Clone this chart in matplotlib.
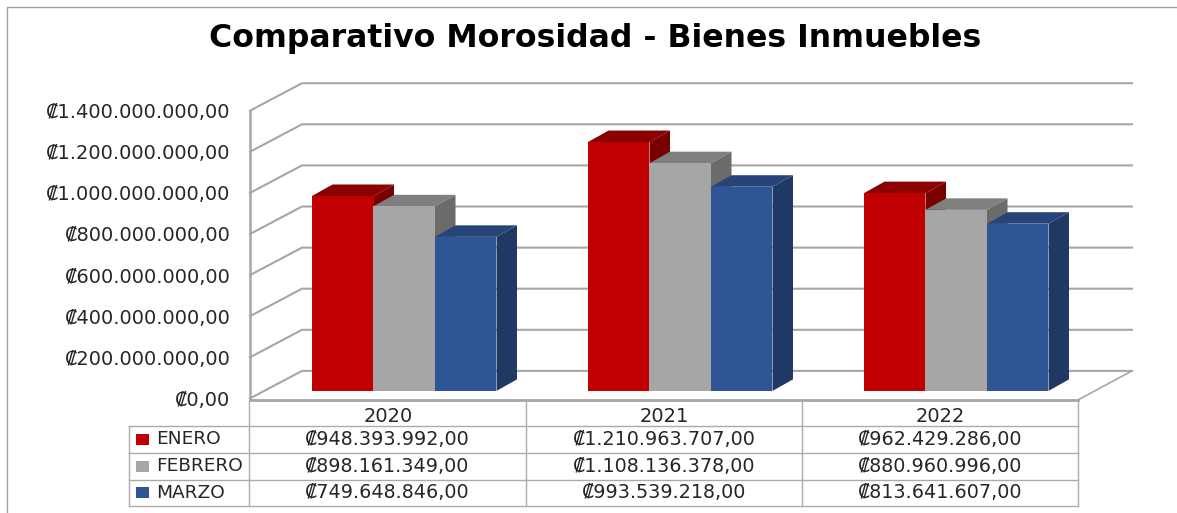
import matplotlib
matplotlib.use('Agg')
import matplotlib.pyplot as plt
from matplotlib.patches import Polygon, Rectangle

title = 'Comparativo Morosidad - Bienes Inmuebles'
years = ['2020', '2021', '2022']
seriesNames = ['ENERO', 'FEBRERO', 'MARZO']
enero = [948393992, 1210963707, 962429286]
febrero = [898161349, 1108136378, 880960996]
marzo = [749648846, 993539218, 813641607]
yTicks = [0, 200000000, 400000000, 600000000, 800000000, 1000000000, 1200000000, 1400000000]

values = [enero, febrero, marzo]
faceColors = ['#C00000', '#A6A6A6', '#2F5597']
topColors = ['#8B0000', '#7F7F7F', '#264478']
sideColors = ['#7A0000', '#6B6B6B', '#1F3864']
gridColor = '#A6A6A6'
W, H = 1177, 513


def money(v):
  # spanish style number, dots for thousands
  return '\u20a1' + '{:,.2f}'.format(v).replace(',', 'X').replace('.', ',').replace('X', '.')


fig = plt.figure(figsize=(W / 100, H / 100), dpi=100)
fig.patch.set_facecolor('white')

# front plane of the fake 3d box: x 250-1078, y 110.7-398.4 in pixels
left, right, top, bottom = 250, 1078, 110.7, 398.4
ax = fig.add_axes([left / W, 1 - bottom / H, (right - left) / W, (bottom - top) / H])
ax.set_xlim(0, 3)
ax.set_ylim(0, 1400000000)
ax.patch.set_visible(False)
for s in ax.spines.values():
  s.set_visible(False)
pxX = 3 / (right - left)
pxY = 1400000000 / (bottom - top)

# walls and gridlines
backX = 52 * pxX
backY = 27.5 * pxY
endX = 3 + 54 * pxX
for t in yTicks:
  ax.plot([0, backX, endX], [t, t + backY, t + backY], color=gridColor, lw=1.5, clip_on=False, zorder=1)
ax.plot([3, endX], [-1.5 * pxY, backY], color=gridColor, lw=1.2, clip_on=False, zorder=1)
ax.plot([0, 0], [0, 1400000000], color=gridColor, lw=1.8, clip_on=False, zorder=1)
ax.plot([0, 3], [-1.5 * pxY, -1.5 * pxY], color=gridColor, lw=2, clip_on=False, zorder=1)

# bars, left to right so the sides get covered properly
barW = 61.5 * pxX
shiftX = 62 * pxX
shiftY = 7.5 * pxY
depthX = 20.5 * pxX
depthY = 11.5 * pxY
z = 2
for c in range(len(years)):
  for s in range(len(seriesNames)):
    x0 = c + shiftX + s * barW
    x1 = x0 + barW
    y0 = shiftY
    y1 = shiftY + values[s][c]
    ax.add_patch(Polygon([(x1, y0), (x1 + depthX, y0 + depthY), (x1 + depthX, y1 + depthY), (x1, y1)],
                         fc=sideColors[s], ec='none', clip_on=False, zorder=z))
    ax.add_patch(Polygon([(x0, y1), (x0 + depthX, y1 + depthY), (x1 + depthX, y1 + depthY), (x1, y1)],
                         fc=topColors[s], ec='none', clip_on=False, zorder=z))
    ax.add_patch(Rectangle((x0, y0), barW, values[s][c], fc=faceColors[s], ec='none', clip_on=False, zorder=z))
    z += 1

ax.set_yticks(yTicks)
ax.set_yticklabels([money(t) for t in yTicks], fontsize=14, color='#262626')
ax.set_xticks([0.5, 1.5, 2.5])
ax.set_xticklabels(years, fontsize=14, color='#262626')
ax.tick_params(axis='y', length=0, pad=14)
ax.tick_params(axis='x', length=0, pad=6)

# overlay in pixels for title, data table and the outer border
ov = fig.add_axes([0, 0, 1, 1])
ov.set_xlim(0, W)
ov.set_ylim(H, 0)
ov.axis('off')
ov.patch.set_visible(False)
ov.text(595, 38, title, fontsize=22.7, fontweight='bold', ha='center', va='center', color='black')

# outer frame, only top and left are in the picture
ov.plot([6.5, 6.5, W], [H, 6.5, 6.5], color='#A0A0A0', lw=1)

rows = [426, 452.5, 479.5, 506]
cols = [249, 526, 802, 1078]
for y in rows:
  ov.plot([128.5, 1078], [y, y], color='#ABABAB', lw=1)
ov.plot([128.5, 128.5], [rows[0], rows[-1]], color='#ABABAB', lw=1)
for x in cols:
  ov.plot([x, x], [400, rows[-1]], color='#ABABAB', lw=1)
for s in range(len(seriesNames)):
  my = (rows[s] + rows[s + 1]) / 2
  ov.add_patch(Rectangle((136, my - 5.5), 13, 11, fc=faceColors[s], ec='none'))
  ov.text(156, my, seriesNames[s], fontsize=13.3, va='center', ha='left', color='#262626')
  for c in range(len(years)):
    ov.text((cols[c] + cols[c + 1]) / 2, my, money(values[s][c]), fontsize=13.8, va='center', ha='center', color='#262626')

fig.savefig('out.png', dpi=100)
plt.close(fig)
